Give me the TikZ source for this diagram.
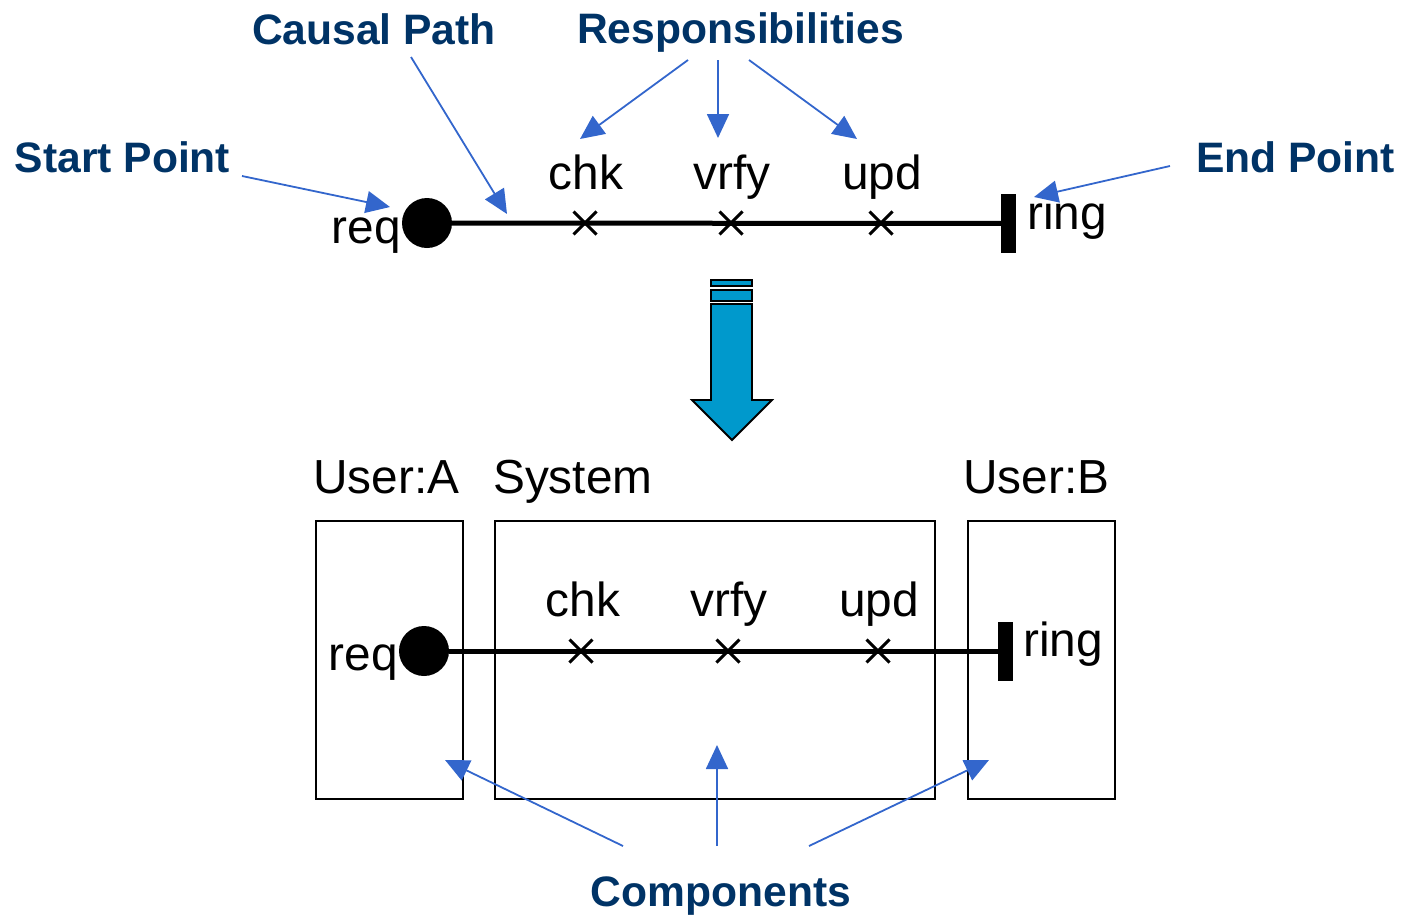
\documentclass[tikz,border=0pt]{standalone}
\usepackage{fontspec}
\setmainfont{Liberation Sans}
\usetikzlibrary{arrows.meta,shapes.misc}
\definecolor{navy}{RGB}{0,51,102}
\definecolor{callout}{RGB}{51,102,204}
\definecolor{flow}{RGB}{0,153,204}

\begin{document}
\begin{tikzpicture}[x=1pt,y=-1pt,
  word/.style={inner sep=0pt, font=\fontsize{47.8}{50}\selectfont},
  tag/.style={inner sep=0pt, text=navy, font=\fontsize{42.6}{46}\selectfont\bfseries},
  pointer/.style={draw=callout, line width=1.8pt, -{Triangle[length=24pt,width=22pt]}},
  causal/.style={line width=5pt},
  startdot/.style={circle, fill=black, minimum size=50pt, inner sep=0pt},
  endbar/.style={fill=black, minimum width=15pt, minimum height=59pt, inner sep=0pt},
  xmark/.style={cross out, draw, line width=3pt, minimum size=20pt, inner sep=0pt},
  comp/.style={draw, line width=1.5pt},
]
\useasboundingbox (0,0) rectangle (1408,916);

% ---------- upper use case map ----------
\node[startdot] (s1) at (427,223) {};
\node[endbar] (e1) at (1008.5,223.5) {};
\draw[causal] (s1) -- (e1);
\node[xmark] (x1a) at (585,223) {};
\node[xmark] (x1b) at (731,223) {};
\node[xmark] (x1c) at (881,223) {};
\node[word, anchor=base] (chk1) at (586,189) {chk};
\node[word, anchor=base] (vrfy1) at (732,189) {vrfy};
\node[word, anchor=base] (upd1) at (882,189) {upd};
\node[word, anchor=base east] (req1) at (401,243) {req};
\node[word, anchor=base west] (ring1) at (1027,229) {ring};

% ---------- labels with callouts ----------
\node[tag, anchor=base] (lcausal) at (374,44) {Causal Path};
\node[tag, anchor=base] (lresp) at (740.5,43) {Responsibilities};
\node[tag, anchor=base] (lstart) at (122.5,172) {Start Point};
\node[tag, anchor=base] (lend) at (1295.5,172) {End Point};
\node[tag, anchor=base] (lcomp) at (721,906) {Components};

\coordinate (cp0) at (411,57);   \coordinate (cp1) at (507,214);
\coordinate (ra0) at (688,60);   \coordinate (ra1) at (580,139);
\coordinate (rb0) at (718,60);   \coordinate (rb1) at (718,138);
\coordinate (rc0) at (749,60);   \coordinate (rc1) at (857,139);
\coordinate (sp0) at (242,176);  \coordinate (sp1) at (390,207);
\coordinate (ep0) at (1170,166); \coordinate (ep1) at (1034,197);
\coordinate (ca0) at (623,846);  \coordinate (ca1) at (445,760);
\coordinate (cb0) at (717,846);  \coordinate (cb1) at (717,745);
\coordinate (cc0) at (809,846);  \coordinate (cc1) at (989,760);

\draw[pointer] (cp0) -- (cp1);
\draw[pointer] (ra0) -- (ra1);
\draw[pointer] (rb0) -- (rb1);
\draw[pointer] (rc0) -- (rc1);
\draw[pointer] (sp0) -- (sp1);
\draw[pointer] (ep0) -- (ep1);

% ---------- transformation arrow ----------
\begin{scope}[fill=flow, draw=black, line width=1.8pt, line join=miter]
  \filldraw (711,280) rectangle (752,286);
  \filldraw (711,290) rectangle (752,301);
  \filldraw (711,304) -- (752,304) -- (752,400) -- (772,400) -- (732,440)
            -- (692,400) -- (711,400) -- cycle;
\end{scope}

% ---------- lower map bound to components ----------
\node[comp, minimum width=147pt, minimum height=278pt, inner sep=0pt, anchor=north west] (ua) at (315,520) {};
\node[comp, minimum width=440pt, minimum height=278pt, inner sep=0pt, anchor=north west] (sys) at (494,520) {};
\node[comp, minimum width=147pt, minimum height=278pt, inner sep=0pt, anchor=north west] (ub) at (967,520) {};
\node[word, anchor=base west] (lua) at (313,493) {User:A};
\node[word, anchor=base west] (lsys) at (493,493) {System};
\node[word, anchor=base west] (lub) at (963,493) {User:B};

\node[startdot] (s2) at (424,651) {};
\node[endbar] (e2) at (1005.5,651) {};
\draw[causal] (s2) -- (e2);
\node[xmark] (x2a) at (581,651) {};
\node[xmark] (x2b) at (728,651) {};
\node[xmark] (x2c) at (878,651) {};
\node[word, anchor=base] (chk2) at (583,616) {chk};
\node[word, anchor=base] (vrfy2) at (729,616) {vrfy};
\node[word, anchor=base] (upd2) at (879,616) {upd};
\node[word, anchor=base east] (req2) at (398,670) {req};
\node[word, anchor=base west] (ring2) at (1023,656) {ring};

\draw[pointer] (ca0) -- (ca1);
\draw[pointer] (cb0) -- (cb1);
\draw[pointer] (cc0) -- (cc1);
\end{tikzpicture}
\end{document}
